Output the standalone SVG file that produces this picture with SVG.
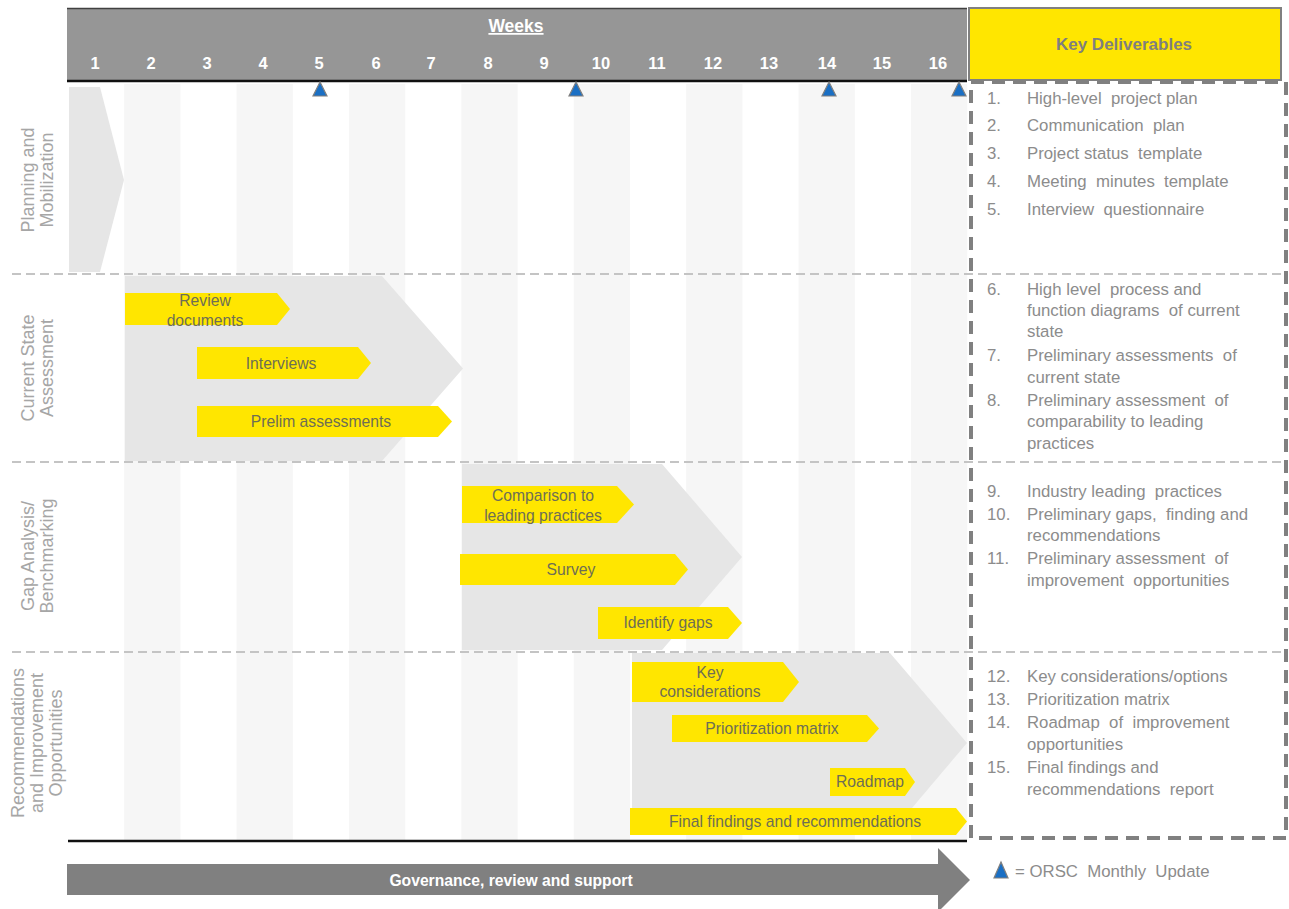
<svg xmlns="http://www.w3.org/2000/svg" width="1289" height="909" viewBox="0 0 1289 909">
<style>
.stripe{fill:#f6f6f6}
.phase{fill:#e6e6e6}
.bar{fill:#ffe600}
.bt{font-family:"Liberation Sans",Arial,sans-serif;font-size:15.7px;fill:#6e6e55;text-anchor:middle}
.wk{font-family:"Liberation Sans",Arial,sans-serif;font-size:16.5px;font-weight:bold;fill:#ffffff;text-anchor:middle}
.sep{stroke:#c4c4c4;stroke-width:2;stroke-dasharray:9,5;fill:none}
.ms{fill:#1a6fc4;stroke:#7f7f7f;stroke-width:1.2}
.lbl{font-family:"Liberation Sans",Arial,sans-serif;font-size:18px;fill:#a6a6a6;text-anchor:middle}
.dl{font-family:"Liberation Sans",Arial,sans-serif;font-size:16.8px;fill:#8c8c8c;white-space:pre}
</style>
<rect width="1289" height="909" fill="#ffffff"/>

<g id="stripes">
<rect class="stripe" x="124.2" y="84" width="56.2" height="756"/>
<rect class="stripe" x="236.6" y="84" width="56.2" height="756"/>
<rect class="stripe" x="349" y="84" width="56.2" height="756"/>
<rect class="stripe" x="461.4" y="84" width="56.2" height="756"/>
<rect class="stripe" x="573.8" y="84" width="56.2" height="756"/>
<rect class="stripe" x="686.2" y="84" width="56.2" height="756"/>
<rect class="stripe" x="798.6" y="84" width="56.2" height="756"/>
<rect class="stripe" x="911" y="84" width="56.2" height="756"/>
</g>

<g id="header">
<rect x="67" y="8" width="900" height="73" fill="#969696"/>
<line x1="67" y1="8.5" x2="967" y2="8.5" stroke="#404040" stroke-width="1.5"/>
<line x1="67" y1="81" x2="967" y2="81" stroke="#111111" stroke-width="2.5"/>
<text x="516" y="32" class="wk" style="font-size:17.5px" text-decoration="underline">Weeks</text>
<text class="wk" y="69"><tspan x="95">1</tspan><tspan x="151">2</tspan><tspan x="207">3</tspan><tspan x="263">4</tspan><tspan x="319">5</tspan><tspan x="376">6</tspan><tspan x="431">7</tspan><tspan x="488">8</tspan><tspan x="544">9</tspan><tspan x="601">10</tspan><tspan x="657">11</tspan><tspan x="713">12</tspan><tspan x="769">13</tspan><tspan x="827">14</tspan><tspan x="882">15</tspan><tspan x="938">16</tspan></text>
</g>

<g id="phase-planning">
<polygon class="phase" points="69,87 100,87 124,180 100,272 69,272"/>
<text class="lbl" transform="translate(34,180) rotate(-90)"><tspan x="0" y="0">Planning and</tspan><tspan x="0" y="19">Mobilization</tspan></text>
</g>

<g id="phase-current">
<polygon class="phase" points="125,276 382,276 463,368.5 382,461 125,461"/>
<text class="lbl" transform="translate(34,368) rotate(-90)"><tspan x="0" y="0">Current State</tspan><tspan x="0" y="19">Assessment</tspan></text>
</g>

<g id="phase-gap">
<polygon class="phase" points="462,464 662,464 742,557 662,650 462,650"/>
<text class="lbl" transform="translate(34,556) rotate(-90)"><tspan x="0" y="0">Gap Analysis/</tspan><tspan x="0" y="19">Benchmarking</tspan></text>
</g>

<g id="phase-recommendations">
<polygon class="phase" points="632,653 890,653 967,743 890,834 632,834"/>
<text class="lbl" transform="translate(24,743) rotate(-90)"><tspan x="0" y="0">Recommendations</tspan><tspan x="0" y="19">and Improvement</tspan><tspan x="0" y="38">Opportunities</tspan></text>
</g>

<g id="separators">
<line class="sep" x1="12" y1="274" x2="1286" y2="274"/>
<line class="sep" x1="12" y1="462" x2="1286" y2="462"/>
<line class="sep" x1="12" y1="652" x2="1286" y2="652"/>
</g>

<g id="task-review">
<polygon class="bar" points="125,293 277,293 290,309 277,325 125,325"/>
<text class="bt"><tspan x="205" y="306">Review</tspan><tspan x="205" y="326">documents</tspan></text>
</g>
<g id="task-interviews">
<polygon class="bar" points="197,347 358,347 371,363 358,379 197,379"/>
<text class="bt" x="281" y="369">Interviews</text>
</g>
<g id="task-prelim">
<polygon class="bar" points="197,406 438,406 452,421.5 438,437 197,437"/>
<text class="bt" x="321" y="427">Prelim assessments</text>
</g>
<g id="task-comparison">
<polygon class="bar" points="462,486 617,486 634,504.5 617,523 462,523"/>
<text class="bt"><tspan x="543" y="501">Comparison to</tspan><tspan x="543" y="521">leading practices</tspan></text>
</g>
<g id="task-survey">
<polygon class="bar" points="460,554 675,554 688,569.5 675,585 460,585"/>
<text class="bt" x="571" y="575">Survey</text>
</g>
<g id="task-gaps">
<polygon class="bar" points="598,607 728,607 742,623 728,639 598,639"/>
<text class="bt" x="668" y="628">Identify gaps</text>
</g>
<g id="task-key">
<polygon class="bar" points="632,662 783,662 799,682 783,702 632,702"/>
<text class="bt"><tspan x="710" y="678">Key</tspan><tspan x="710" y="697">considerations</tspan></text>
</g>
<g id="task-prioritization">
<polygon class="bar" points="672,715 867,715 879,728.5 867,742 672,742"/>
<text class="bt" x="772" y="734">Prioritization matrix</text>
</g>
<g id="task-roadmap">
<polygon class="bar" points="830,768 905,768 915,782 905,796 830,796"/>
<text class="bt" x="870" y="787">Roadmap</text>
</g>
<g id="task-final">
<polygon class="bar" points="630,808 956,808 967,821.5 956,835 630,835"/>
<text class="bt" x="795" y="827">Final findings and recommendations</text>
</g>

<g id="baseline">
<line x1="68" y1="841" x2="967" y2="841" stroke="#111111" stroke-width="2.5"/>
</g>

<g id="milestones">
<polygon class="ms" points="320,82 327,96 313,96"/>
<polygon class="ms" points="576,82 583,96 569,96"/>
<polygon class="ms" points="829,82 836,96 822,96"/>
<polygon class="ms" points="959,82 966,96 952,96"/>
</g>

<g id="deliverables">
<rect x="969" y="8" width="312" height="72" fill="#ffe600" stroke="#808080" stroke-width="2"/>
<text x="1124" y="50" font-family="Liberation Sans, Arial, sans-serif" font-size="17" font-weight="bold" fill="#7f7f7f" text-anchor="middle">Key Deliverables</text>
<rect x="971" y="82" width="315" height="756" fill="none" stroke="#808080" stroke-width="4" stroke-dasharray="13,8"/>
<text class="dl" x="987" y="104">1.</text><text class="dl" x="1027" y="104">High-level  project plan</text>
<text class="dl" x="987" y="131">2.</text><text class="dl" x="1027" y="131">Communication  plan</text>
<text class="dl" x="987" y="159">3.</text><text class="dl" x="1027" y="159">Project status  template</text>
<text class="dl" x="987" y="187">4.</text><text class="dl" x="1027" y="187">Meeting  minutes  template</text>
<text class="dl" x="987" y="215">5.</text><text class="dl" x="1027" y="215">Interview  questionnaire</text>
<text class="dl" x="987" y="295">6.</text><text class="dl" x="1027" y="295">High level  process and</text>
<text class="dl" x="1027" y="316">function diagrams  of current</text>
<text class="dl" x="1027" y="337">state</text>
<text class="dl" x="987" y="361">7.</text><text class="dl" x="1027" y="361">Preliminary assessments  of</text>
<text class="dl" x="1027" y="383">current state</text>
<text class="dl" x="987" y="406">8.</text><text class="dl" x="1027" y="406">Preliminary assessment  of</text>
<text class="dl" x="1027" y="427">comparability to leading</text>
<text class="dl" x="1027" y="449">practices</text>
<text class="dl" x="987" y="497">9.</text><text class="dl" x="1027" y="497">Industry leading  practices</text>
<text class="dl" x="987" y="520">10.</text><text class="dl" x="1027" y="520">Preliminary gaps,  finding and</text>
<text class="dl" x="1027" y="541">recommendations</text>
<text class="dl" x="987" y="564">11.</text><text class="dl" x="1027" y="564">Preliminary assessment  of</text>
<text class="dl" x="1027" y="586">improvement  opportunities</text>
<text class="dl" x="987" y="682">12.</text><text class="dl" x="1027" y="682">Key considerations/options</text>
<text class="dl" x="987" y="705">13.</text><text class="dl" x="1027" y="705">Prioritization matrix</text>
<text class="dl" x="987" y="728">14.</text><text class="dl" x="1027" y="728">Roadmap  of  improvement</text>
<text class="dl" x="1027" y="750">opportunities</text>
<text class="dl" x="987" y="773">15.</text><text class="dl" x="1027" y="773">Final findings and</text>
<text class="dl" x="1027" y="795">recommendations  report</text>
</g>

<g id="governance">
<polygon points="67,864 938,864 938,848 970,880 938,912 938,895 67,895" fill="#808080"/>
<text x="511" y="886" font-family="Liberation Sans, Arial, sans-serif" font-size="15.7" font-weight="bold" fill="#ffffff" text-anchor="middle">Governance, review and support</text>
</g>

<g id="legend">
<polygon class="ms" points="1001,862 1008,878 994,878"/>
<text class="dl" x="1015" y="877">= ORSC  Monthly  Update</text>
</g>
</svg>
